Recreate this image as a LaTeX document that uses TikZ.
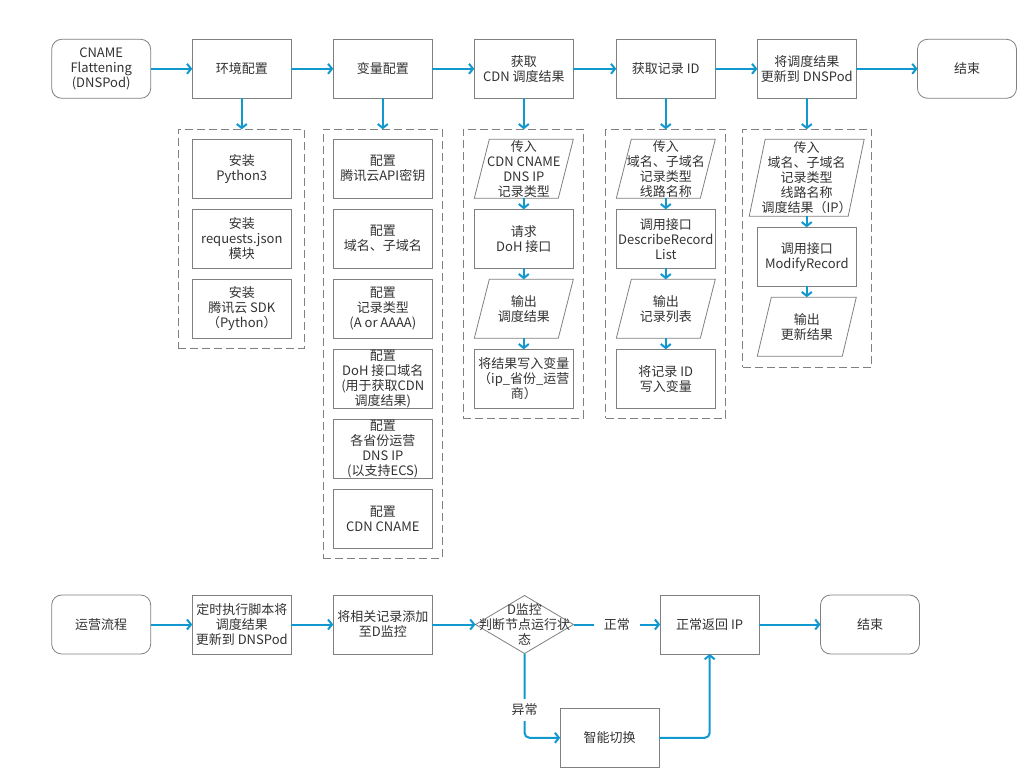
\documentclass[tikz,border=0pt]{standalone}
\usepackage{fontspec}
\setmainfont{Noto Sans CJK SC}
\usetikzlibrary{arrows.meta,shapes.geometric,calc}
\definecolor{flow}{RGB}{17,152,207}
\definecolor{edgegray}{RGB}{128,128,128}
\definecolor{txt}{RGB}{51,51,51}
\tikzset{
 base/.style={align=center, font=\fontsize{13}{15}\selectfont, text=txt, inner sep=0pt, outer sep=0pt},
 box/.style={base, draw=edgegray, line width=0.8pt, fill=white, minimum width=99pt, minimum height=59pt},
 rbox/.style={box, rounded corners=10pt},
 para/.style={base, minimum width=99pt, minimum height=59pt},
 pline/.style={draw=edgegray, line width=0.8pt},
 cont/.style={draw=edgegray, line width=0.8pt, dash pattern=on 8pt off 4pt, inner sep=0pt, outer sep=0pt},
 arr/.style={draw=flow, line width=2pt, -{Straight Barb[length=4pt,width=10pt]}},
 lbl/.style={base, fill=white, inner xsep=10pt, inner ysep=2pt},
}
\newcommand{\drawpara}[2]{\draw[pline] ($(#1.north west)+(#2,0)$) -- (#1.north east) -- ($(#1.south east)-(#2,0)$) -- (#1.south west) -- cycle;}
\begin{document}
\begin{tikzpicture}[x=1pt,y=-1pt]
\fill[white] (0,0) rectangle (1017,768);
\useasboundingbox (0,0) rectangle (1017,768);

% containers
\node[cont, minimum width=126pt, minimum height=219pt] (c2) at (241.3,238.8) {};
\node[cont, minimum width=119pt, minimum height=429pt] (c3) at (382.8,343.8) {};
\node[cont, minimum width=120pt, minimum height=289pt] (c4) at (523.3,273.8) {};
\node[cont, minimum width=120pt, minimum height=289pt] (c5) at (665.8,273.8) {};
\node[cont, minimum width=129pt, minimum height=238pt] (c6) at (807.2,248.3) {};

% top row
\node[rbox] (start) at (101.2,68.8) {CNAME\\Flattening\\(DNSPod)};
\node[box] (env) at (241.8,68.8) {环境配置};
\node[box] (var) at (382.8,68.8) {变量配置};
\node[box] (cdn) at (523.8,68.8) {获取\\CDN 调度结果};
\node[box] (rid) at (665.8,68.8) {获取记录 ID};
\node[box] (upd) at (806.8,68.8) {将调度结果\\更新到 DNSPod};
\node[rbox] (end1) at (967,68.8) {结束};

% column 2
\node[box] (py) at (241.8,168.8) {安装\\Python3};
\node[box] (req) at (241.8,238.8) {安装\\requests.json\\模块};
\node[box] (sdk) at (241.8,308.8) {安装\\腾讯云 SDK\\（Python）};

% column 3
\node[box] (key) at (382.8,168.8) {配置\\腾讯云API密钥};
\node[box] (dom) at (382.8,238.8) {配置\\域名、子域名};
\node[box] (typ) at (382.8,308.8) {配置\\记录类型\\(A or AAAA)};
\node[box] (dohd) at (382.8,378.8) {配置\\DoH 接口域名\\(用于获取CDN\\调度结果)};
\node[box] (prov) at (382.8,448.8) {配置\\各省份运营\\DNS IP\\(以支持ECS)};
\node[box] (cname) at (382.8,518.8) {配置\\CDN CNAME};

% column 4
\node[para] (in4) at (523.8,168.8) {传入\\CDN CNAME\\DNS IP\\记录类型};
\drawpara{in4}{15}
\node[box] (doh) at (523.8,238.8) {请求\\DoH 接口};
\node[para] (out4) at (523.8,308.8) {输出\\调度结果};
\drawpara{out4}{15}
\node[box] (wr4) at (523.8,378.8) {将结果写入变量\\（ip\_省份\_运营\\商）};

% column 5
\node[para] (in5) at (665.8,168.8) {传入\\域名、子域名\\记录类型\\线路名称};
\drawpara{in5}{15}
\node[box] (desc) at (665.8,238.8) {调用接口\\DescribeRecord\\List};
\node[para] (out5) at (665.8,308.8) {输出\\记录列表};
\drawpara{out5}{15}
\node[box] (wr5) at (665.8,378.8) {将记录 ID\\写入变量};

% column 6
\node[para, minimum width=115pt, minimum height=77pt] (in6) at (806.7,177.7) {传入\\域名、子域名\\记录类型\\线路名称\\调度结果（IP）};
\drawpara{in6}{16}
\node[box] (mod) at (806.8,256.8) {调用接口\\ModifyRecord};
\node[para] (out6) at (806.8,326.7) {输出\\更新结果};
\drawpara{out6}{14}

% top arrows
\draw[arr] (start) -- (env);
\draw[arr] (env) -- (var);
\draw[arr] (var) -- (cdn);
\draw[arr] (cdn) -- (rid);
\draw[arr] (rid) -- (upd);
\draw[arr] (upd) -- (end1);
\draw[arr] (env.south) -- (env.south |- c2.north);
\draw[arr] (var.south) -- (var.south |- c3.north);
\draw[arr] (cdn.south) -- (cdn.south |- c4.north);
\draw[arr] (rid.south) -- (rid.south |- c5.north);
\draw[arr] (upd.south) -- (upd.south |- c6.north);
\draw[arr] (in4) -- (doh);
\draw[arr] (doh) -- (out4);
\draw[arr] (out4) -- (wr4);
\draw[arr] (in5) -- (desc);
\draw[arr] (desc) -- (out5);
\draw[arr] (out5) -- (wr5);
\draw[arr] (in6.south) -- (in6.south |- mod.north);
\draw[arr] (mod) -- (out6);

% bottom row
\node[rbox] (ops) at (101.2,624.5) {运营流程};
\node[box] (timer) at (241.8,624.5) {定时执行脚本将\\调度结果\\更新到 DNSPod};
\node[box] (addm) at (382.8,624.5) {将相关记录添加\\至D监控};
\node[diamond, draw=edgegray, line width=0.8pt, fill=white, minimum width=98pt, minimum height=58pt, inner sep=0pt, outer sep=0pt] (dia) at (524.5,624.5) {};
\node[base] (diat) at (524.5,624.5) {D监控\\判断节点运行状\\态};
\node[box] (ok) at (709.7,624.5) {正常返回 IP};
\node[box] (smart) at (609.7,737.8) {智能切换};
\node[rbox] (end2) at (870,624.5) {结束};

\draw[arr] (ops) -- (timer);
\draw[arr] (timer) -- (addm);
\draw[arr] (addm) -- (dia);
\draw[arr] (dia.east) -- node[lbl] (nlab) {正常} (ok.west);
\draw[arr, rounded corners=5pt] (dia.south) |- (smart.west);
\node[lbl, inner xsep=2pt, inner ysep=5pt] (alab) at (524.5,710) {异常};
\draw[arr, rounded corners=5pt] (smart.east) -| (ok.south);
\draw[arr] (ok) -- (end2);
\end{tikzpicture}
\end{document}
